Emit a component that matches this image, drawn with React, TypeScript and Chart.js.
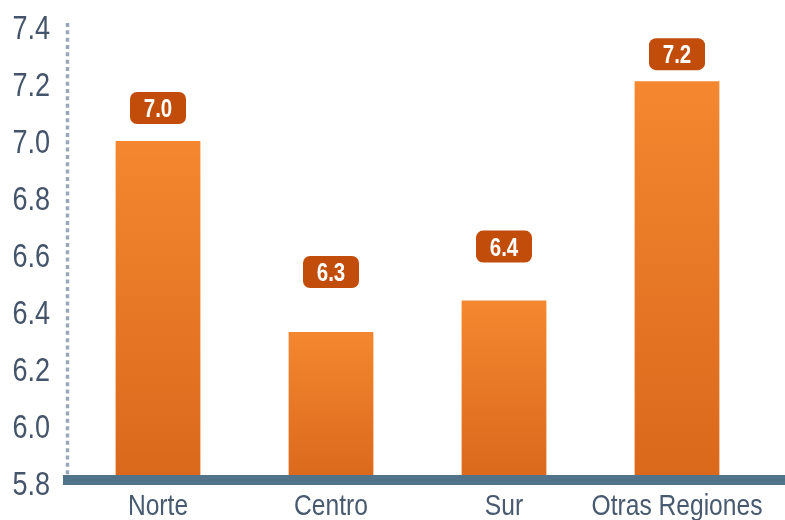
import React, { useEffect, useRef } from "react";
import { Chart, registerables } from "chart.js";

Chart.register(...registerables);

const categories = ["Norte", "Centro", "Sur", "Otras Regiones"];
const values = [7.0, 6.33, 6.44, 7.21];
const valueLabels = ["7.0", "6.3", "6.4", "7.2"];
const yMin = 5.8;
const yMax = 7.4;
const yStep = 0.2;

// style: gap (px) between bar top and label box bottom
const labelGaps = [17, 44, 38, 11];

const FONT = "'Liberation Sans', Arial, sans-serif";
const NARROW = 0.82;

function narrowText(ctx: CanvasRenderingContext2D, text: string, x: number, y: number, align: CanvasTextAlign) {
  ctx.save();
  ctx.translate(x, y);
  ctx.scale(NARROW, 1);
  ctx.textAlign = align;
  ctx.textBaseline = "alphabetic";
  ctx.fillText(text, 0, 0);
  ctx.restore();
}

const decorPlugin = {
  id: "decor",
  beforeDatasetsDraw(chart: any) {
    const { ctx, chartArea } = chart;
    const ys = chart.scales.y;
    const base = ys.getPixelForValue(yMin);
    ctx.save();
    ctx.strokeStyle = "#9AA7B7";
    ctx.lineWidth = 3.5;
    ctx.setLineDash([4, 3.33]);
    ctx.beginPath();
    ctx.moveTo(chartArea.left - 4, chartArea.top - 4);
    ctx.lineTo(chartArea.left - 4, base - 7);
    ctx.stroke();
    ctx.restore();
  },
  afterDatasetsDraw(chart: any) {
    const { ctx, chartArea } = chart;
    const ys = chart.scales.y;
    const xs = chart.scales.x;
    const base = ys.getPixelForValue(yMin);
    ctx.save();
    // baseline axis bar
    ctx.fillStyle = "#52748A";
    ctx.fillRect(chartArea.left - 8.5, base - 8, chart.width - (chartArea.left - 8.5), 10);

    // y tick labels
    ctx.fillStyle = "#44546A";
    ctx.font = "33px " + FONT;
    ys.ticks.forEach((t: any) => {
      const y = ys.getPixelForValue(t.value);
      narrowText(ctx, Number(t.value).toFixed(1), chartArea.left - 21.5, y + 12.3, "right");
    });

    // x tick labels
    ctx.fillStyle = "#475A6F";
    ctx.font = "30px " + FONT;
    categories.forEach((c, i) => {
      const x = xs.getPixelForValue(i);
      narrowText(ctx, c, x, chartArea.bottom + 32, "center");
    });

    // value labels
    const meta = chart.getDatasetMeta(0);
    meta.data.forEach((bar: any, i: number) => {
      const w = 56;
      const h = 32;
      const bottom = bar.y - labelGaps[i];
      const x = bar.x - w / 2;
      const y = bottom - h;
      ctx.fillStyle = "#C24D0A";
      ctx.beginPath();
      (ctx as any).roundRect(x, y, w, h, 7);
      ctx.fill();
      ctx.fillStyle = "#FFFFFF";
      ctx.font = "bold 25px " + FONT;
      narrowText(ctx, valueLabels[i], bar.x, y + h / 2 + 9, "center");
    });
    ctx.restore();
  },
};

export default function App() {
  const ref = useRef<HTMLCanvasElement | null>(null);
  useEffect(() => {
    if (!ref.current) return;
    const chart = new Chart(ref.current, {
      type: "bar",
      data: {
        labels: categories,
        datasets: [
          {
            data: values,
            backgroundColor: (c: any) => {
              const ch = c.chart;
              if (!ch.chartArea || !ch.scales || !ch.scales.y) return "#EE7D2A";
              const ys = ch.scales.y;
              const v = c.raw as number;
              if (typeof v !== "number") return "#EE7D2A";
              const top = ys.getPixelForValue(v);
              const bot = ys.getPixelForValue(yMin);
              if (!isFinite(top) || !isFinite(bot) || top === bot) return "#EE7D2A";
              const g = ch.ctx.createLinearGradient(0, top, 0, bot);
              g.addColorStop(0, "#F4872F");
              g.addColorStop(1, "#DA681C");
              return g;
            },
            borderWidth: 0,
            barPercentage: 0.49,
            categoryPercentage: 1,
          },
        ],
      },
      options: {
        animation: false,
        responsive: true,
        maintainAspectRatio: false,
        layout: { padding: { top: 27, right: 21.5, left: 0, bottom: 0 } },
        plugins: { legend: { display: false }, tooltip: { enabled: false } },
        scales: {
          x: {
            grid: { display: false, drawTicks: false },
            border: { display: false },
            ticks: { display: false },
            afterFit: (s: any) => {
              s.height = 37;
            },
          },
          y: {
            min: yMin,
            max: yMax,
            grid: { display: false, drawTicks: false },
            border: { display: false },
            ticks: { display: false, stepSize: yStep },
            afterFit: (s: any) => {
              s.width = 71.5;
            },
          },
        },
      },
      plugins: [decorPlugin],
    });
    return () => chart.destroy();
  }, []);
  return (
    <div style={{ position: "absolute", left: 0, top: 0, width: 785, height: 520, background: "#fff" }}>
      <canvas ref={ref} />
    </div>
  );
}
